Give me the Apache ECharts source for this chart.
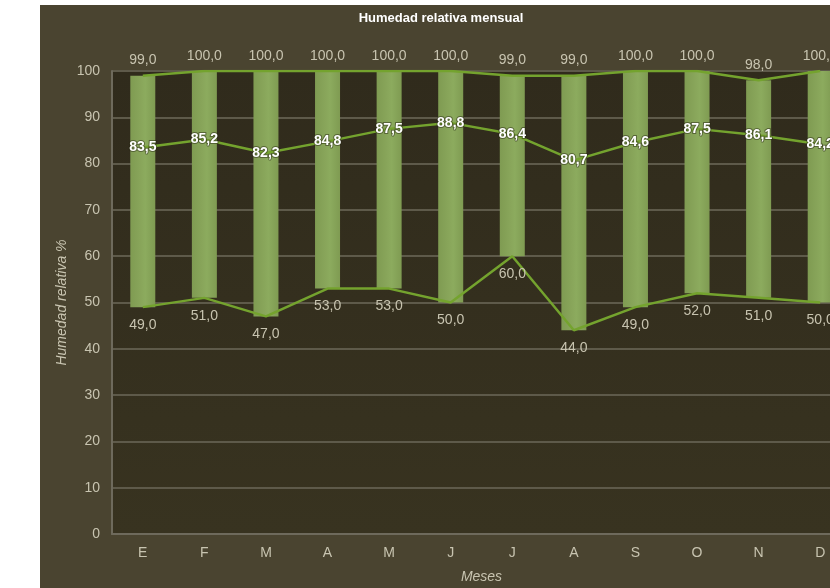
<!DOCTYPE html>
<html><head><meta charset="utf-8">
<script src="https://cdn.jsdelivr.net/npm/echarts@6/dist/echarts.min.js"></script>
<style>html,body{margin:0;padding:0;background:#fff}#c{width:830px;height:588px}</style>
</head><body><div id="c"></div>
<script>
const categories = ['E','F','M','A','M','J','J','A','S','O','N','D'];
const maxValues = [99,100,100,100,100,100,99,99,100,100,98,100];
const minValues = [49,51,47,53,53,50,60,44,49,52,51,50];
const meanValues = [83.5,85.2,82.3,84.8,87.5,88.8,86.4,80.7,84.6,87.5,86.1,84.2];
const rangeValues = maxValues.map((v,i)=>v-minValues[i]);
const fmt = p => p.value.toFixed(1).replace('.', ',');
const font = 'Liberation Sans, Arial, sans-serif';
const lineColor = '#74a32e';
const txt = '#c8c4b0';
const chart = echarts.init(document.getElementById('c'));
chart.setOption({
  backgroundColor: '#ffffff',
  animation: false,
  graphic: [{type:'rect', z:-10, shape:{x:40,y:5,width:800,height:600}, style:{fill:'#4a4430'}}],
  title: {text:'Humedad relativa mensual', left:436, textAlign:'center', top:7,
    textStyle:{color:'#ffffff', fontSize:13, fontWeight:'bold', fontFamily:font}},
  grid: {left:112, right:-21, top:71, bottom:54, show:true, borderWidth:0, outerBoundsMode:'none', containLabel:false,
    backgroundColor:{type:'linear',x:0,y:0,x2:0,y2:1,colorStops:[{offset:0,color:'#302b1c'},{offset:1,color:'#383320'}]}},
  xAxis: {type:'category', data:categories, name:'Meses', nameLocation:'middle', nameGap:36,
    nameTextStyle:{color:txt, fontSize:14, fontStyle:'italic', fontFamily:font},
    axisLine:{lineStyle:{color:'#6e6a5c', width:2}}, axisTick:{show:false},
    axisLabel:{color:txt, fontSize:14, margin:12, fontFamily:font}},
  yAxis: {type:'value', min:0, max:100, interval:10, name:'Humedad relativa %', nameLocation:'middle', nameGap:43, nameMoveOverlap:false,
    nameTextStyle:{color:txt, fontSize:14, fontStyle:'italic', fontFamily:font},
    axisLine:{show:true, lineStyle:{color:'#6e6a5c', width:2}}, axisTick:{show:false},
    splitLine:{lineStyle:{color:'#5e5a4a', width:2}},
    axisLabel:{color:txt, fontSize:14, margin:12, fontFamily:font}},
  series: [
    {type:'bar', stack:'r', data:minValues, barWidth:25, itemStyle:{color:'transparent'}, silent:true},
    {type:'bar', stack:'r', data:rangeValues, barWidth:25,
      itemStyle:{color:{type:'linear',x:0,y:0,x2:1,y2:0,colorStops:[
        {offset:0,color:'#7f9b52'},{offset:0.4,color:'#88a55a'},{offset:0.6,color:'#8cab5e'},{offset:1,color:'#7f9b52'}]}}},
    {type:'line', data:maxValues, symbol:'circle', symbolSize:0, lineStyle:{color:lineColor, width:2.5}, itemStyle:{color:lineColor}, z:5,
      label:{show:true, position:'top', distance:8, formatter:fmt, color:txt, fontSize:14, fontFamily:font}},
    {type:'line', data:minValues, symbol:'circle', symbolSize:0, lineStyle:{color:lineColor, width:2.5}, itemStyle:{color:lineColor}, z:5,
      label:{show:true, position:'bottom', distance:11, formatter:fmt, color:txt, fontSize:14, fontFamily:font}},
    {type:'line', data:meanValues, symbol:'circle', symbolSize:0, lineStyle:{color:lineColor, width:2.5}, itemStyle:{color:lineColor}, z:5,
      label:{show:true, position:'inside', formatter:fmt, color:'#ffffff', fontSize:14, fontWeight:'bold', fontFamily:font,
        textBorderColor:'rgba(40,40,20,0.5)', textBorderWidth:2}}
  ]
});
</script></body></html>
